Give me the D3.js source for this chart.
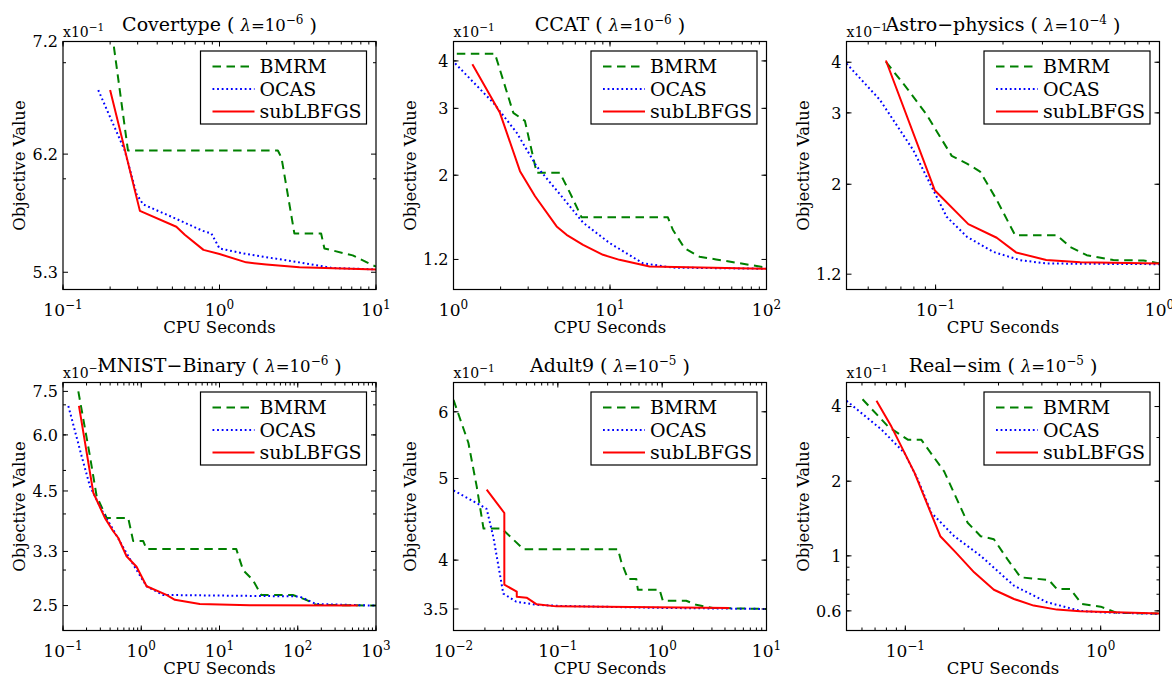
<!DOCTYPE html>
<html>
<head>
<meta charset="utf-8">
<script src="https://cdn.jsdelivr.net/npm/d3@7"></script>
<style>
  body { margin: 0; background: #fff; }
  svg { display: block; }
  text { font-family: "DejaVu Serif", serif; fill: #000; }
</style>
</head>
<body>
<svg id="chart" width="1172" height="676"></svg>
<script>
// Solvers compared in every panel
const seriesNames = ["BMRM", "OCAS", "subLBFGS"];
const seriesColors = ["#008000", "#0000ff", "#ff0000"];

// Dataset titles and regularisation exponents
const datasetNames = ["Covertype", "CCAT", "Astro\u2212physics", "MNIST\u2212Binary", "Adult9", "Real\u2212sim"];
const lambdaExponents = [-6, -6, -4, -6, -5, -5];

// Axis ranges (x: CPU seconds, y: objective value in units of 10^-1)
const xDomains = [[0.1, 10], [1, 100], [0.04, 1], [0.1, 1000], [0.01, 10], [0.05, 2]];
const yDomains = [[5.18, 7.2], [1.0, 4.5], [1.1, 4.5], [2.2, 7.85], [3.3, 6.5], [0.5, 5.0]];

// Labelled y ticks
const yTickValues = [
  [5.3, 6.2, 7.2],
  [1.2, 2, 3, 4],
  [1.2, 2, 3, 4],
  [2.5, 3.3, 4.5, 6.0, 7.5],
  [3.5, 4, 5, 6],
  [0.6, 1, 2, 4]
];
const yTickLabels = [
  ["5.3", "6.2", "7.2"],
  ["1.2", "2", "3", "4"],
  ["1.2", "2", "3", "4"],
  ["2.5", "3.3", "4.5", "6.0", "7.5"],
  ["3.5", "4", "5", "6"],
  ["0.6", "1", "2", "4"]
];

// Objective value vs. CPU seconds, [seconds, objective x10]
const covertypeBMRM = [[0.2,7.42],[0.26,6.23],[2.36,6.23],[2.49,6.17],[3.01,5.58],[4.46,5.58],[4.68,5.47],[7.1,5.42],[9.5,5.35],[10,5.34]];
const covertypeOCAS = [[0.168,6.75],[0.248,6.23],[0.295,5.88],[0.325,5.80],[0.505,5.70],[0.78,5.60],[0.887,5.58],[1.0,5.47],[1.48,5.43],[3.24,5.37],[5.25,5.33],[10,5.32]];
const covertypeSub  = [[0.2,6.75],[0.31,5.75],[0.53,5.63],[0.6,5.57],[0.79,5.46],[1.0,5.43],[1.48,5.37],[1.99,5.355],[3.24,5.335],[10,5.32]];

const ccatBMRM = [[1.05,4.18],[1.84,4.18],[2.41,2.92],[2.86,2.78],[3.40,2.03],[4.78,2.03],[5.54,1.80],[6.58,1.55],[23.4,1.55],[25.2,1.437],[29.9,1.285],[37.3,1.22],[47.6,1.20],[100,1.142]];
const ccatOCAS = [[1.025,3.94],[1.80,3.10],[2.53,2.59],[3.40,2.11],[5.02,1.74],[6.73,1.50],[9.96,1.325],[16.2,1.173],[25,1.142],[100,1.134]];
const ccatSub  = [[1.32,3.92],[1.98,2.92],[2.66,2.05],[3.32,1.76],[4.56,1.466],[5.28,1.393],[6.73,1.311],[9.02,1.234],[11.5,1.197],[17.9,1.15],[100,1.134]];

const astroBMRM = [[0.060,4.01],[0.0754,3.42],[0.0912,2.97],[0.118,2.35],[0.138,2.25],[0.158,2.15],[0.1875,1.83],[0.2264,1.498],[0.3477,1.498],[0.399,1.40],[0.473,1.337],[0.622,1.30],[0.848,1.297],[1.0,1.275]];
const astroOCAS = [[0.04,3.97],[0.0564,3.23],[0.0794,2.43],[0.0993,1.90],[0.112,1.663],[0.138,1.484],[0.181,1.362],[0.238,1.30],[0.312,1.275],[1.0,1.27]];
const astroSub  = [[0.060,4.04],[0.0993,1.93],[0.14,1.595],[0.1875,1.476],[0.2287,1.358],[0.312,1.30],[0.443,1.285],[1.0,1.275]];

const mnistBMRM = [[0.157,7.5],[0.221,5.38],[0.269,4.38],[0.361,3.92],[0.681,3.92],[0.789,3.48],[1.06,3.48],[1.17,3.34],[16.4,3.34],[20,3.00],[26.7,2.85],[34.2,2.64],[86.5,2.64],[128,2.575],[172,2.51],[1000,2.5]];
const mnistOCAS = [[0.117,6.96],[0.173,5.38],[0.221,4.61],[0.327,4.02],[0.438,3.69],[0.649,3.27],[0.871,3.00],[1.17,2.76],[1.9,2.64],[105,2.62],[172,2.52],[950,2.5]];
const mnistSub  = [[0.16,6.96],[0.244,4.46],[0.343,3.92],[0.438,3.66],[0.507,3.54],[0.649,3.22],[0.871,3.05],[1.17,2.76],[2.1,2.64],[2.69,2.575],[5.6,2.52],[24.3,2.505],[585,2.5]];

const adultBMRM = [[0.01,6.2],[0.0139,5.51],[0.0167,4.89],[0.0194,4.36],[0.029,4.36],[0.047,4.12],[0.377,4.12],[0.406,3.98],[0.47,3.80],[0.565,3.80],[0.585,3.69],[0.944,3.69],[1.015,3.58],[1.70,3.58],[2.12,3.54],[3.05,3.51],[10,3.50]];
const adultOCAS = [[0.01,4.84],[0.018,4.65],[0.0208,4.60],[0.0241,4.26],[0.030,3.65],[0.040,3.57],[0.0627,3.54],[0.1,3.53],[1,3.51],[10,3.50]];
const adultSub  = [[0.0208,4.85],[0.0307,4.55],[0.0307,3.74],[0.0404,3.67],[0.0404,3.62],[0.0502,3.61],[0.0627,3.545],[0.097,3.525],[4.4,3.51]];

const realBMRM = [[0.0604,4.28],[0.0817,3.32],[0.103,2.94],[0.1206,2.94],[0.158,2.19],[0.2085,1.36],[0.243,1.20],[0.284,1.167],[0.333,0.97],[0.389,0.819],[0.542,0.80],[0.597,0.735],[0.698,0.735],[0.80,0.64],[1.0,0.624],[1.21,0.589],[1.96,0.585]];
const realOCAS = [[0.05,4.22],[0.0755,3.23],[0.099,2.60],[0.116,2.03],[0.1356,1.494],[0.178,1.20],[0.243,1.0],[0.36,0.758],[0.531,0.65],[0.785,0.60],[1.0,0.592],[2.0,0.583]];
const realSub  = [[0.0712,4.22],[0.0849,3.32],[0.1115,2.16],[0.151,1.20],[0.1816,1.03],[0.225,0.858],[0.284,0.73],[0.36,0.67],[0.454,0.63],[0.597,0.607],[0.785,0.598],[2.0,0.585]];

const panelSeries = [
  [covertypeBMRM, covertypeOCAS, covertypeSub],
  [ccatBMRM, ccatOCAS, ccatSub],
  [astroBMRM, astroOCAS, astroSub],
  [mnistBMRM, mnistOCAS, mnistSub],
  [adultBMRM, adultOCAS, adultSub],
  [realBMRM, realOCAS, realSub]
];

// ---- layout ----
const colLeft = [63, 453.5, 846.5];
const rowTop = [41.5, 382.5];
const plotW = 313, plotH = 248;
const dashStyles = ["8.5,5.5", "1.8,2.8", null];
const lineWidths = [2, 2, 2];

const svg = d3.select("#chart");
const defs = svg.append("defs");

function sup(textSel, base, exp, expSize) {
  textSel.append("tspan").text(base);
  textSel.append("tspan").attr("dy", "-0.55em").attr("font-size", expSize).text(exp);
}

function logMinors(domain) {
  const out = [];
  const lo = Math.floor(Math.log10(domain[0])), hi = Math.ceil(Math.log10(domain[1]));
  for (let e = lo; e <= hi; e++) {
    for (let k = 1; k <= 9; k++) {
      const v = k * Math.pow(10, e);
      if (v >= domain[0] * 0.9999 && v <= domain[1] * 1.0001) out.push(v);
    }
  }
  return out;
}
function logMajors(domain) {
  const out = [];
  const lo = Math.ceil(Math.log10(domain[0]) - 1e-9), hi = Math.floor(Math.log10(domain[1]) + 1e-9);
  for (let e = lo; e <= hi; e++) out.push(e);
  return out;
}

datasetNames.forEach((name, i) => {
  const left = colLeft[i % 3], top = rowTop[Math.floor(i / 3)];
  const x = d3.scaleLog().domain(xDomains[i]).range([left, left + plotW]);
  const y = d3.scaleLog().domain(yDomains[i]).range([top + plotH, top]);
  const g = svg.append("g");

  defs.append("clipPath").attr("id", "clip" + i)
    .append("rect").attr("x", left).attr("y", top).attr("width", plotW).attr("height", plotH);

  // curves
  const line = d3.line().x(d => x(d[0])).y(d => y(d[1]));
  panelSeries[i].forEach((data, s) => {
    g.append("path")
      .attr("clip-path", `url(#clip${i})`)
      .attr("d", line(data))
      .attr("fill", "none")
      .attr("stroke", seriesColors[s])
      .attr("stroke-width", lineWidths[s])
      .attr("stroke-dasharray", dashStyles[s])
      .attr("stroke-linejoin", "round");
  });

  // ticks on all four sides, pointing inwards
  const tk = g.append("g").attr("stroke", "#000").attr("stroke-width", 1);
  const xMin = logMinors(xDomains[i]);
  const xMaj = logMajors(xDomains[i]).map(e => Math.pow(10, e));
  const yMin = logMinors(yDomains[i]);
  const yMaj = yTickValues[i];
  const bot = top + plotH, right = left + plotW;
  [[xMin, 3], [xMaj, 5]].forEach(([vals, len]) => vals.forEach(v => {
    const px = x(v);
    tk.append("line").attr("x1", px).attr("x2", px).attr("y1", bot).attr("y2", bot - len);
    tk.append("line").attr("x1", px).attr("x2", px).attr("y1", top).attr("y2", top + len);
  }));
  [[yMin, 3], [yMaj, 5]].forEach(([vals, len]) => vals.forEach(v => {
    const py = y(v);
    tk.append("line").attr("x1", left).attr("x2", left + len).attr("y1", py).attr("y2", py);
    tk.append("line").attr("x1", right).attr("x2", right - len).attr("y1", py).attr("y2", py);
  }));

  // frame
  g.append("rect").attr("x", left).attr("y", top).attr("width", plotW).attr("height", plotH)
    .attr("fill", "none").attr("stroke", "#000").attr("stroke-width", 1.2);

  // x tick labels 10^n
  logMajors(xDomains[i]).forEach(e => {
    const t = g.append("text").attr("x", x(Math.pow(10, e))).attr("y", bot + 26)
      .attr("text-anchor", "middle").attr("font-size", 17);
    sup(t, "10", e < 0 ? "\u2212" + (-e) : String(e), 12);
  });

  // y tick labels
  yMaj.forEach((v, k) => {
    g.append("text").attr("x", left - 5).attr("y", y(v)).attr("dy", "0.36em")
      .attr("text-anchor", "end").attr("font-size", 16).text(yTickLabels[i][k]);
  });

  // multiplier
  const off = g.append("text").attr("x", left).attr("y", top - 5).attr("font-size", 14);
  sup(off, "x10", "\u22121", 10.5);

  // title
  const tt = g.append("text").attr("x", left + plotW / 2).attr("y", top - 10.5)
    .attr("text-anchor", "middle").attr("font-size", 19);
  tt.append("tspan").text(name + " ( ");
  tt.append("tspan").attr("font-style", "italic").attr("font-size", 16.5).text("\u03bb");
  tt.append("tspan").attr("font-size", 16.5).text("=10");
  tt.append("tspan").attr("dy", "-0.55em").attr("font-size", 12).text("\u2212" + (-lambdaExponents[i]));
  tt.append("tspan").attr("dy", "0.4em").text(" )");

  // axis labels
  g.append("text").attr("x", left + plotW / 2).attr("y", bot + 43)
    .attr("text-anchor", "middle").attr("font-size", 16.5).text("CPU Seconds");
  g.append("text").attr("transform", `translate(${left - 38},${top + plotH / 2}) rotate(-90)`)
    .attr("text-anchor", "middle").attr("font-size", 16.5).text("Objective Value");

  // legend
  const lw = 166, lh = 73;
  const lx = right - 9.5 - lw, ly = top + 9.5;
  const lg = g.append("g");
  lg.append("rect").attr("x", lx).attr("y", ly).attr("width", lw).attr("height", lh)
    .attr("fill", "#fff").attr("stroke", "#000").attr("stroke-width", 1.2);
  seriesNames.forEach((nm, s) => {
    const yy = ly + 15.5 + s * 22.5;
    lg.append("line").attr("x1", lx + 12).attr("x2", lx + 54).attr("y1", yy).attr("y2", yy)
      .attr("stroke", seriesColors[s]).attr("stroke-width", lineWidths[s])
      .attr("stroke-dasharray", dashStyles[s]);
    lg.append("text").attr("x", lx + 59).attr("y", yy).attr("dy", "0.36em")
      .attr("font-size", 19).text(nm);
  });
});
</script>
</body>
</html>
